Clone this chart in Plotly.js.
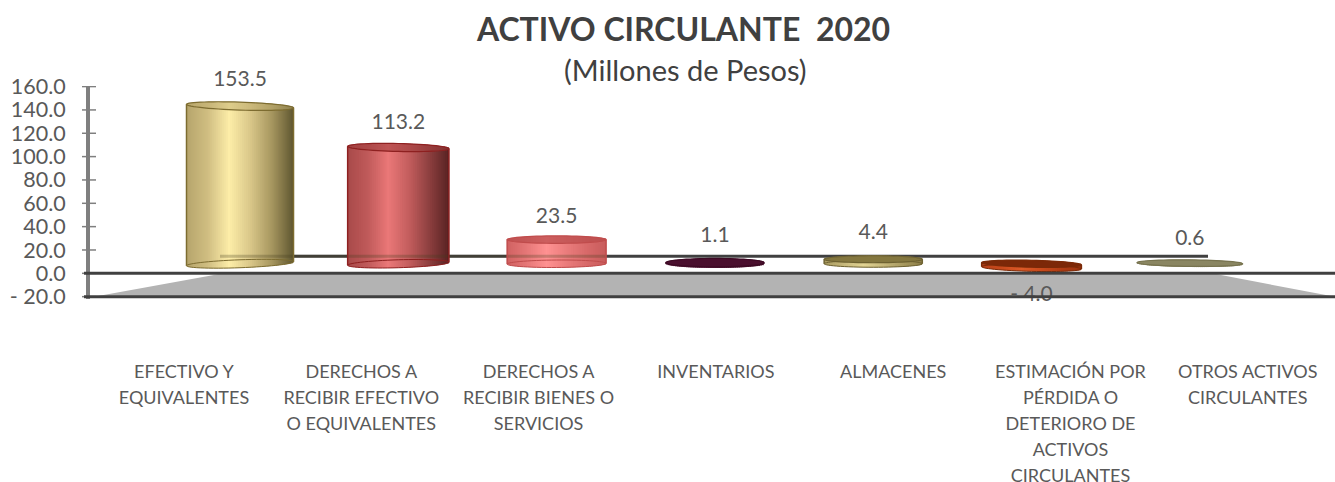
<!DOCTYPE html>
<html><head><meta charset="utf-8">
<script src="https://cdn.plot.ly/plotly-3.0.1.min.js"></script>
<style>html,body{margin:0;padding:0;background:#fff;overflow:hidden}</style></head>
<body><div id="chart" style="width:1335px;height:482px"></div>
<script>
// ---- data ----
const categories = ["EFECTIVO Y<br>EQUIVALENTES","DERECHOS A<br>RECIBIR EFECTIVO<br>O EQUIVALENTES","DERECHOS A<br>RECIBIR BIENES O<br>SERVICIOS","INVENTARIOS","ALMACENES","ESTIMACIÓN POR<br>PÉRDIDA O<br>DETERIORO DE<br>ACTIVOS<br>CIRCULANTES","OTROS ACTIVOS<br>CIRCULANTES"];
const values = [153.5,113.2,23.5,1.1,4.4,-4.0,0.6];
const valueLabels = ["153.5","113.2","23.5","1.1","4.4","- 4.0","0.6"];
const yTicks = [-20,0,20,40,60,80,100,120,140,160];
const yTickLabels = ["- 20.0","0.0","20.0","40.0","60.0","80.0","100.0","120.0","140.0","160.0"];

// ---- cylinder styling (widths in category units of the back wall) ----
const barWidths = [0.676,0.64,0.625,0.62,0.62,0.63,0.665];
const radiusY = [3.4,3.4,3.2,3.6,3,3,2.8];
const tiltTop = [1.5,1,0,0,0,1,0.5];
const tiltBottom = [-1.7,-1.3,-0.3,0,0,1,0.5];
const labelGap = [13,11,9.5,13,12.5,14.5,11];
const gradients = [
  ["#b6a56c","#d0be82","#fdeda8","#d8c688","#a6965f","#5f5630"],
  ["#a84a4a","#c05a5a","#ea7878","#c45e5e","#8e4040","#582222"],
  ["#d06262","#e67878","#ff9292","#ea7c7c","#d86a6a","#c85c5c"],
  ["#4a0f2e","#4a0f2e","#5a1a3c","#4a0f2e","#430c28","#430c28"],
  ["#a89a60","#c6b87c","#e2d494","#c6b87c","#a89a60","#8c7e48"],
  ["#b8401a","#c84a1c","#dc5a28","#c84a1c","#b03c14","#9c3410"],
  ["#8a8662","#8f8b68","#9a9674","#8f8b68","#8a8662","#8a8662"]
];
const edgeColors = ["#7d6c30","#8e2020","#c04c4c","#3d0a24","#6e6232","#7a2a08","#77734f"];
const capFills = ["rgba(190,172,110,.5)","rgba(160,60,60,.6)","rgba(185,75,75,.72)","#4a0f2e","#84773f","#7c2808","#8a8662"];
const ink = "#595959", lineDark = "#404040", axisGrey = "#7f7f7f", floorGrey = "#b3b3b3";

// ---- projection of the 3-D chart: bars stand on a floor set back from the axis ----
const floorLevel = 8.2, depthScale = 0.88;
const tops = values.map(v => floorLevel + v * depthScale);
const hi = tops.map(t => Math.max(t, floorLevel));
const lo = tops.map(t => Math.min(t, floorLevel));

function mix(stops, f){
  const p = f * (stops.length - 1), i = Math.min(Math.floor(p), stops.length - 2), t = p - i;
  const c = s => [1,3,5].map(k => parseInt(s.substr(k,2),16));
  const a = c(stops[i]), b = c(stops[i+1]);
  return "rgb(" + a.map((v,k) => Math.round(v + (b[k]-v)*t)).join(",") + ")";
}
const strips = 54, traces = [];
// invisible trace that carries the category axis
traces.push({type:"scatter",mode:"none",x:categories,y:values,xaxis:"x",yaxis:"y",hoverinfo:"skip",showlegend:false});
for (let s = 0; s < strips; s++){
  const u = (s + 0.5) / strips * 2 - 1, arc = Math.sqrt(1 - u*u);
  const cover = s < strips - 1 ? 1.8 : 1;   // each strip runs under the next, so no seams show
  traces.push({
    type:"bar", xaxis:"x2", yaxis:"y", showlegend:false, hoverinfo:"skip",
    x: values.map((v,i) => i),
    base: lo.map((l,i) => l - radiusY[i]*arc + tiltBottom[i]*-u),
    y: hi.map((h,i) => (h + radiusY[i]*arc - tiltTop[i]*u) - (lo[i] - radiusY[i]*arc + tiltBottom[i]*-u)),
    width: barWidths.map(w => cover * w / strips),
    offset: barWidths.map(w => w * (s / strips - 0.5)),
    marker:{color: gradients.map(g => mix(g, (s+0.5)/strips)), line:{width:0}}
  });
}
traces.push({
  type:"scatter", mode:"text", xaxis:"x2", yaxis:"y", showlegend:false, hoverinfo:"skip", cliponaxis:false,
  x: values.map((v,i) => i),
  y: values.map((v,i) => v < 0 ? lo[i] - labelGap[i] : hi[i] + labelGap[i]),
  text: valueLabels, textposition: values.map(v => v < 0 ? "bottom center" : "top center"),
  textfont:{family:"Lato, sans-serif", size:21, color:ink}
});

function ellipse(cx, cy, rx, ry, tilt){
  let d = "";
  for (let k = 0; k <= 60; k++){
    const a = k / 60 * 2 * Math.PI, u = Math.cos(a);
    d += (k ? "L" : "M") + (cx + rx*u).toFixed(4) + "," + (cy + ry*Math.sin(a) - tilt*u).toFixed(3);
  }
  return d + "Z";
}
const shapes = [];
const fx = px => (px - 90) / 1245;
// floor
const floorEdge = -0.9;
shapes.push({type:"path",layer:"below",xref:"paper",yref:"y",fillcolor:floorGrey,line:{width:0},
  path:`M${fx(94)},-20L${fx(218)},${floorEdge}L${fx(1217)},${floorEdge}L${fx(1335)},-20Z`});
// back wall line
const backLine = 14.6;
shapes.push({type:"line",layer:"below",xref:"paper",yref:"y",x0:fx(220),x1:fx(1208),y0:backLine,y1:backLine,line:{color:lineDark,width:3}});
shapes.push({type:"line",layer:"above",xref:"paper",yref:"y",x0:fx(220),x1:fx(606),y0:backLine,y1:backLine,line:{color:"rgba(70,60,30,.28)",width:3}});
// cylinders' caps and edges
values.forEach((v,i) => {
  const rx = barWidths[i]/2, e = edgeColors[i];
  if (Math.abs(v) > 3) shapes.push({type:"path",layer:"above",xref:"x2",yref:"y",path:ellipse(i,lo[i],rx,radiusY[i],tiltBottom[i]),fillcolor:"rgba(0,0,0,0)",line:{color:e,width:1}});
  shapes.push({type:"path",layer:"above",xref:"x2",yref:"y",path:ellipse(i,hi[i],rx,radiusY[i],tiltTop[i]),fillcolor:capFills[i],line:{color:e,width:1.2}});
  shapes.push({type:"line",layer:"above",xref:"x2",yref:"y",x0:i-rx,x1:i-rx,y0:lo[i]+tiltBottom[i],y1:hi[i]+tiltTop[i],line:{color:e,width:1.5}});
  shapes.push({type:"line",layer:"above",xref:"x2",yref:"y",x0:i+rx,x1:i+rx,y0:lo[i]-tiltBottom[i],y1:hi[i]-tiltTop[i],line:{color:e,width:1.5}});
});
// axis tick marks running through the axis line, then the floor lines
yTicks.forEach(t => shapes.push({type:"line",layer:"above",xref:"paper",yref:"y",x0:fx(82),x1:fx(96),y0:t,y1:t,line:{color:axisGrey,width:1.5}}));
[0,-20].forEach(t => shapes.push({type:"line",layer:"above",xref:"paper",yref:"y",x0:fx(84),x1:1,y0:t,y1:t,line:{color:lineDark,width:3}}));

const layout = {
  width:1335, height:482, paper_bgcolor:"#fff", plot_bgcolor:"rgba(0,0,0,0)",
  margin:{l:90,r:0,t:86.4,b:183.4}, barmode:"overlay", showlegend:false, hovermode:false,
  title:{text:"ACTIVO CIRCULANTE  2020",xref:"container",yref:"container",x:0.512,xanchor:"center",y:1-30/482,yanchor:"middle",
         font:{family:"Lato, sans-serif",size:32,weight:700,color:"#404040"}},
  annotations:[{text:"(Millones de Pesos)",xref:"paper",yref:"paper",x:fx(685),y:1+(86.4-70)/212.2,xanchor:"center",yanchor:"middle",showarrow:false,
         font:{family:"Lato, sans-serif",size:29,color:"#404040"}}],
  xaxis:{type:"category",categoryorder:"array",categoryarray:categories,range:[-0.53,6.492],showgrid:false,zeroline:false,showline:false,
         ticks:"",ticklabelstandoff:60,tickangle:0,tickfont:{family:"Lato, sans-serif",size:18,color:ink},automargin:false},
  xaxis2:{type:"linear",overlaying:"x",anchor:"y",range:[-0.9476,6.917],visible:false,fixedrange:true},
  yaxis:{range:[-22,160.5],tickmode:"array",tickvals:yTicks,ticktext:yTickLabels,showgrid:false,zeroline:false,showline:true,linecolor:axisGrey,linewidth:4,
         ticks:"",ticklabelstandoff:16,tickfont:{family:"Lato, sans-serif",size:21.5,color:ink},automargin:false},
  shapes
};
Plotly.newPlot("chart",traces,layout,{displayModeBar:false,staticPlot:true}).then(gd => {
  // Plotly's tick labels use a fixed line pitch; the reference sets them further apart
  gd.querySelectorAll(".xtick text tspan.line").forEach(t => {
    const dy = parseFloat(t.getAttribute("dy"));
    if (dy) t.setAttribute("dy", (dy * 1.11) + "em");
  });
});
</script></body></html>
